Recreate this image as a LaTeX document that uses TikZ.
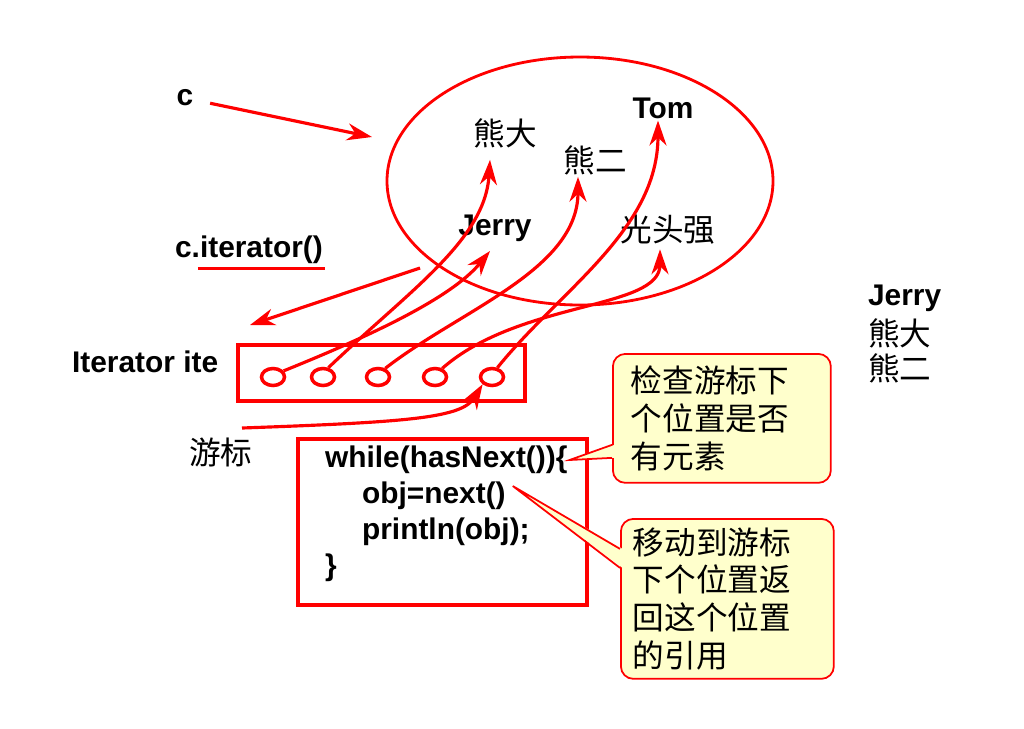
\documentclass[tikz,border=0pt]{standalone}
\usepackage{fontspec}
\setmainfont{Liberation Sans}
\newfontfamily\cjk{Noto Sans CJK SC}
\usetikzlibrary{arrows.meta,positioning,calc,shapes.geometric}
\definecolor{Hot}{HTML}{FF0000}
\definecolor{Note}{HTML}{FFFFCC}
\tikzset{ptr/.style={-{Stealth[length=5mm,width=3.4mm]},line width=1.8pt,draw=Hot},word/.style={font=\fontsize{17}{20}\selectfont\bfseries,inner sep=1pt},han/.style={font=\fontsize{18}{21}\selectfont\cjk,inner sep=1pt},slot/.style={ellipse,draw=Hot,fill=white,line width=2pt,minimum width=4.6mm,minimum height=3.4mm,inner sep=0pt},note/.style={draw=Hot,fill=Note,rounded corners=2.5mm,line width=1pt,font=\fontsize{18}{21.5}\selectfont\cjk,align=left,anchor=north west}}

\begin{document}
\begin{tikzpicture}[x=0.02cm,y=-0.02cm]
\useasboundingbox (0,0) rectangle (1024,728);
% the collection
\draw[Hot,line width=1.6pt] (580,181) ellipse [x radius=193,y radius=124];
\node[word] (c) at (185,98) {c};
\coordinate (cin) at (372,137);
\draw[ptr,shorten <=0.3cm] (c) -- (cin);
\node[han] (xd) at (505,133) {熊大};
\node[han] (xe) at (595,160) {熊二};
\node[word] (tom) at (663,108) {Tom};
\node[word] (jerry) at (495,228) {Jerry};
\node[han] (gtq) at (668,230) {光头强};
\node[word,anchor=west] (citer) at (173,250) {c.iterator()};
\draw[Hot,line width=1.6pt] ([xshift=0.5cm,yshift=-0.05cm]citer.south west) -- ([yshift=-0.05cm]citer.south east);
\coordinate (itA) at (420,268);
\coordinate (itB) at (250,325);
\draw[ptr] (itA) -- (itB);
% the iterator
\node[word,anchor=west] (ite) at (70,362) {Iterator ite};
\node[draw=Hot,line width=2.2pt,minimum width=5.74cm,minimum height=1.12cm,inner sep=0pt] (rail) at (381.5,373) {};
\foreach \x [count=\i] in {273,323,378,435,492} \node[slot] (e\i) at (\x,377) {};
\draw[ptr] (e1.30) .. controls (360,340) and (450,300) .. ([xshift=-0.1cm,yshift=-0.15cm]jerry.south);
\draw[ptr] (e2.60) .. controls (410,290) and (485,240) .. ([xshift=-0.3cm,yshift=-0.2cm]xd.south);
\draw[ptr] (e3.50) .. controls (460,310) and (578,270) .. ([xshift=-0.34cm]xe.south);
\draw[ptr] (e4.50) .. controls (520,300) and (660,310) .. ([xshift=-0.16cm,yshift=-0.05cm]gtq.south);
\draw[ptr] (e5.60) .. controls (560,290) and (658,230) .. ([xshift=-0.1cm]tom.south);
\node[han,anchor=west] (cursor) at (187,452) {游标};
\coordinate (cur) at (242,428);
\draw[ptr] (cur) .. controls (410,422) and (462,418) .. (e5.south west);
% the loop
\node[draw=Hot,line width=2.2pt,minimum width=5.78cm,minimum height=3.32cm,inner sep=0pt,anchor=north west] (loop) at (296,437) {};
\node[word,anchor=west] (l1) at (323,460) {while(hasNext())\{};
\node[word,anchor=west] (l2) at (360,496) {obj=next()};
\node[word,anchor=west] (l3) at (360,532) {println(obj);};
\node[word,anchor=west] (l4) at (323,568) {\}};
% notes
\node[note,minimum width=4.36cm,minimum height=2.58cm,inner xsep=0.36cm,text width=3.64cm] (q1) at (612,353) {检查游标下\\个位置是否\\有元素};
\fill[Note] ([xshift=0.05cm,yshift=-0.53cm]q1.west) -- (l1.east) -- ([xshift=0.05cm,yshift=-0.79cm]q1.west) -- cycle;
\draw[Hot,line width=1pt] ([yshift=-0.53cm]q1.west) -- (l1.east) -- ([yshift=-0.79cm]q1.west);
\node[note,minimum width=4.26cm,minimum height=3.2cm,inner xsep=0.24cm,text width=3.78cm] (q2) at (620,518) {移动到游标\\下个位置返\\回这个位置\\的引用};
\fill[Note] ([xshift=0.05cm,yshift=1cm]q2.west) -- ([xshift=0.1cm,yshift=0.2cm]l2.east) -- ([xshift=0.05cm,yshift=0.62cm]q2.west) -- cycle;
\draw[Hot,line width=1pt] ([yshift=1cm]q2.west) -- ([xshift=0.1cm,yshift=0.2cm]l2.east) -- ([yshift=0.62cm]q2.west);
% order
\node[word,anchor=west] (r1) at (866,298) {Jerry};
\node[han,anchor=west] (r2) at (866,333) {熊大};
\node[han,anchor=west] (r3) at (866,368) {熊二};
\end{tikzpicture}
\end{document}
